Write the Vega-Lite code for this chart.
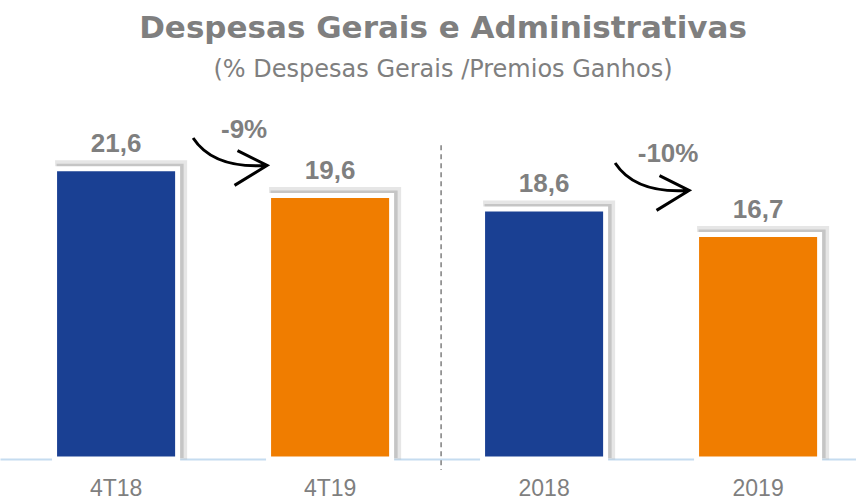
{
  "$schema": "https://vega.github.io/schema/vega-lite/v6.json",
  "width": 856,
  "height": 336,
  "autosize": "none",
  "padding": {"top": 123, "bottom": 40, "left": 0, "right": 0},
  "background": "white",
  "title": {
    "text": "Despesas Gerais e Administrativas",
    "subtitle": "(% Despesas Gerais /Premios  Ganhos)",
    "anchor": "middle",
    "frame": "group",
    "font": "DejaVu Sans",
    "fontSize": 31,
    "fontWeight": "bold",
    "color": "#7f7f7f",
    "subtitleFont": "DejaVu Sans",
    "subtitleFontSize": 24,
    "subtitleColor": "#7f7f7f",
    "subtitlePadding": 13,
    "offset": 34,
    "dx": 15
  },
  "config": {"view": {"stroke": null}},
  "datasets": {
    "bars": [
      {"cat": "4T18", "periodo": "anterior", "valor": 21.6, "rotulo": "21,6"},
      {"cat": "4T19", "periodo": "atual", "valor": 19.6, "rotulo": "19,6"},
      {"cat": "2018", "periodo": "anterior", "valor": 18.6, "rotulo": "18,6"},
      {"cat": "2019", "periodo": "atual", "valor": 16.7, "rotulo": "16,7"}
    ],
    "notas": [
      {"cat": "4T19", "variacao": "-9%", "y_texto": 23.87, "y_seta": 22.12},
      {"cat": "2019", "variacao": "-10%", "y_texto": 22.08, "y_seta": 20.26}
    ],
    "separador": [
      {"cat": "2018", "y_topo": 23.35, "y_base": -0.82}
    ]
  },
  "encoding": {
    "x": {
      "field": "cat",
      "type": "nominal",
      "sort": ["4T18", "4T19", "2018", "2019"],
      "scale": {"paddingInner": 0.425, "paddingOuter": 0.2125, "align": 0.6},
      "axis": {
        "title": null,
        "labelAngle": 0,
        "ticks": false,
        "tickSize": 0,
        "labelPadding": 36,
        "labelBaseline": "alphabetic",
        "labelFont": "Liberation Sans",
        "labelFontSize": 23,
        "labelColor": "#7f7f7f",
        "domainColor": "#c5dcf0",
        "domainWidth": 2,
        "grid": false
      }
    },
    "y": {
      "type": "quantitative",
      "scale": {"domain": [0, 25], "nice": false, "zero": false},
      "axis": null
    }
  },
  "layer": [
    {
      "data": {"name": "bars"},
      "mark": {"type": "bar", "color": "#a0a0a0", "opacity": 0.25, "stroke": "#a0a0a0", "strokeWidth": 9, "xOffset": 5, "yOffset": -4},
      "encoding": {
        "y": {"field": "valor", "type": "quantitative", "scale": {"domain": [0, 25], "nice": false, "zero": false}, "axis": null}
      }
    },
    {
      "data": {"name": "bars"},
      "mark": {"type": "bar", "color": "#8a8a8a", "opacity": 0.35, "stroke": "#8a8a8a", "strokeWidth": 4, "xOffset": 4, "yOffset": -3},
      "encoding": {
        "y": {"field": "valor", "type": "quantitative", "scale": {"domain": [0, 25], "nice": false, "zero": false}, "axis": null}
      }
    },
    {
      "data": {"name": "bars"},
      "mark": {"type": "bar", "stroke": "white", "strokeWidth": 5},
      "encoding": {
        "y": {"field": "valor", "type": "quantitative", "scale": {"domain": [0, 25], "nice": false, "zero": false}, "axis": null},
        "color": {
          "field": "periodo",
          "type": "nominal",
          "scale": {"domain": ["anterior", "atual"], "range": ["#1a4093", "#f07d00"]},
          "legend": null
        }
      }
    },
    {
      "data": {"name": "bars"},
      "mark": {"type": "text", "baseline": "alphabetic", "dy": -17, "font": "Liberation Sans", "fontSize": 26, "fontWeight": "bold", "color": "#7f7f7f"},
      "encoding": {
        "y": {"field": "valor", "type": "quantitative", "scale": {"domain": [0, 25], "nice": false, "zero": false}, "axis": null},
        "text": {"field": "rotulo"}
      }
    },
    {
      "data": {"name": "separador"},
      "mark": {"type": "rule", "xOffset": -103, "color": "#7f7f7f", "strokeWidth": 1.5, "strokeDash": [5, 4]},
      "encoding": {
        "y": {"field": "y_topo", "type": "quantitative", "scale": {"domain": [0, 25], "nice": false, "zero": false}, "axis": null},
        "y2": {"field": "y_base"}
      }
    },
    {
      "data": {"name": "notas"},
      "transform": [{"filter": "datum.cat === '4T19'"}],
      "mark": {"type": "point", "shape": "M-1,-0.64Q-0.45,0.2 1,0.1M0.2,-0.3L1,0.1L0.12,0.64", "size": 5476, "filled": false, "stroke": "black", "strokeWidth": 3, "opacity": 1, "xOffset": -100},
      "encoding": {
        "y": {"field": "y_seta", "type": "quantitative", "scale": {"domain": [0, 25], "nice": false, "zero": false}, "axis": null}
      }
    },
    {
      "data": {"name": "notas"},
      "transform": [{"filter": "datum.cat === '2019'"}],
      "mark": {"type": "point", "shape": "M-1,-0.64Q-0.45,0.2 1,0.1M0.2,-0.3L1,0.1L0.12,0.64", "size": 5476, "filled": false, "stroke": "black", "strokeWidth": 3, "opacity": 1, "xOffset": -106},
      "encoding": {
        "y": {"field": "y_seta", "type": "quantitative", "scale": {"domain": [0, 25], "nice": false, "zero": false}, "axis": null}
      }
    },
    {
      "data": {"name": "notas"},
      "transform": [{"filter": "datum.cat === '4T19'"}],
      "mark": {"type": "text", "baseline": "alphabetic", "xOffset": -86, "font": "Liberation Sans", "fontSize": 26, "fontWeight": "bold", "color": "#7f7f7f"},
      "encoding": {
        "y": {"field": "y_texto", "type": "quantitative", "scale": {"domain": [0, 25], "nice": false, "zero": false}, "axis": null},
        "text": {"field": "variacao"}
      }
    },
    {
      "data": {"name": "notas"},
      "transform": [{"filter": "datum.cat === '2019'"}],
      "mark": {"type": "text", "baseline": "alphabetic", "xOffset": -90, "font": "Liberation Sans", "fontSize": 26, "fontWeight": "bold", "color": "#7f7f7f"},
      "encoding": {
        "y": {"field": "y_texto", "type": "quantitative", "scale": {"domain": [0, 25], "nice": false, "zero": false}, "axis": null},
        "text": {"field": "variacao"}
      }
    }
  ]
}
